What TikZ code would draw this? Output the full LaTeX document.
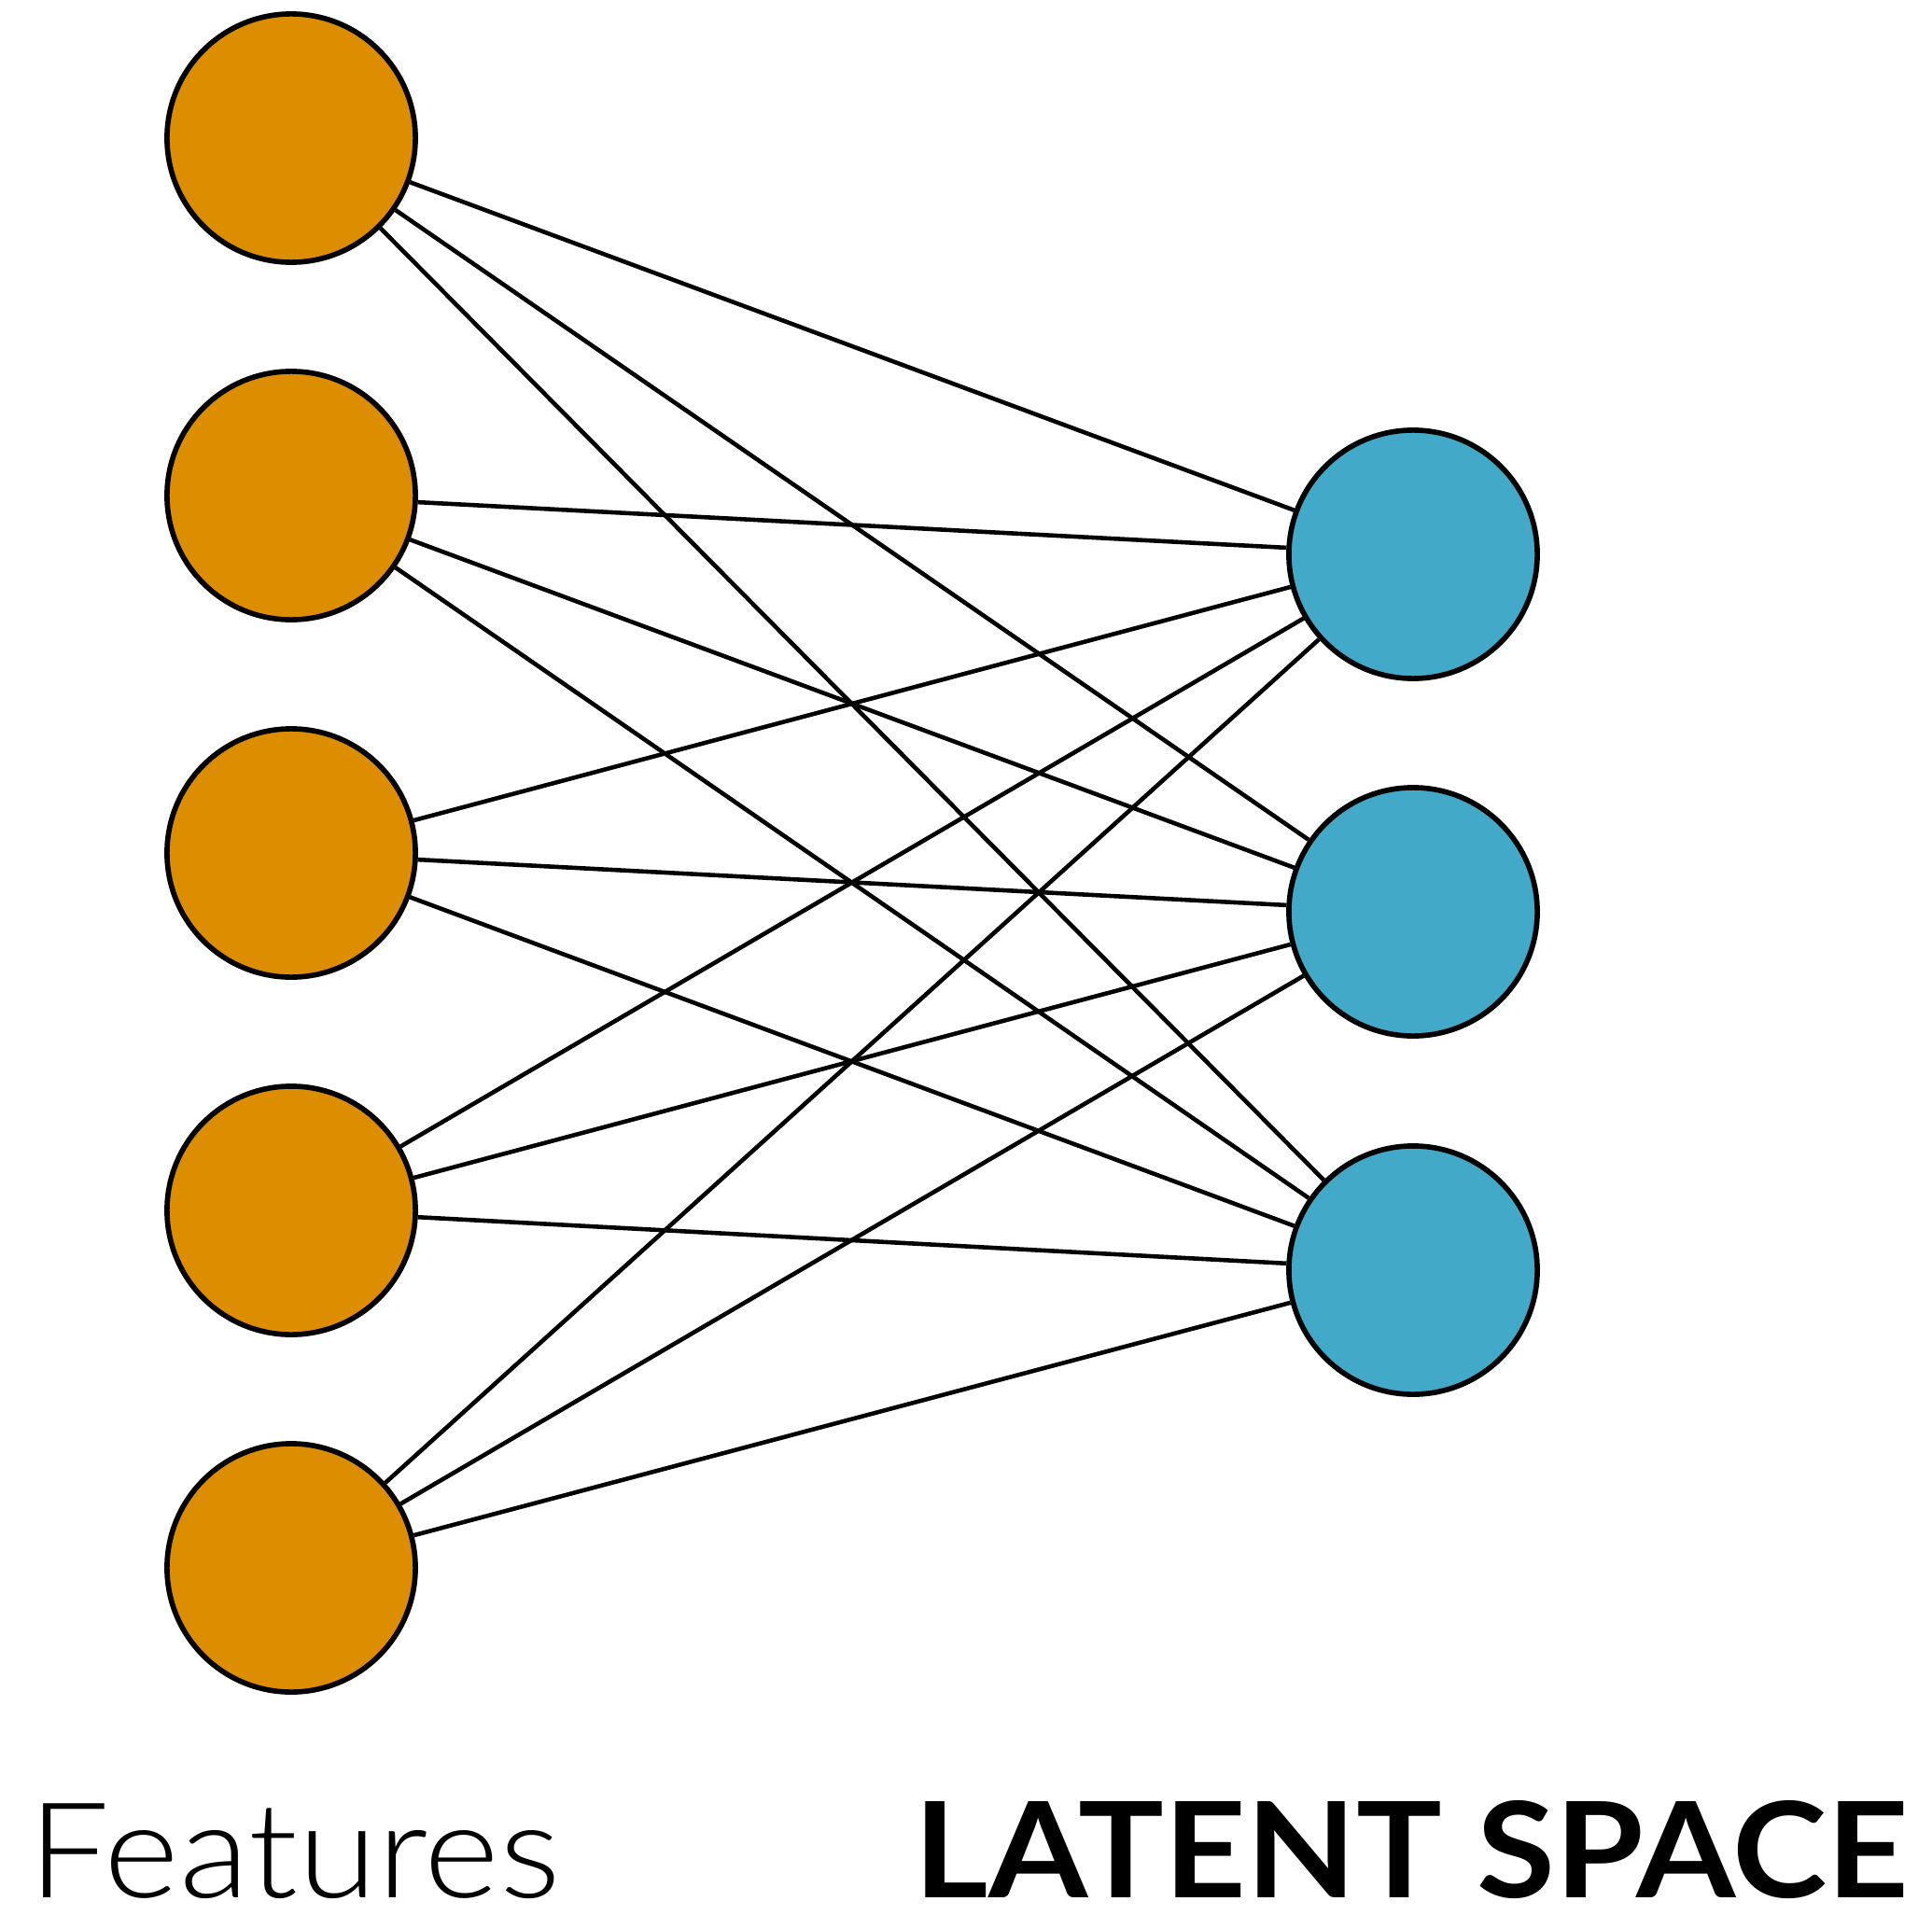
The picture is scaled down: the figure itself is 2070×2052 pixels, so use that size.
\documentclass[tikz,border=0pt]{standalone}
\usepackage{fontspec}
\setmainfont{Lato}
\newfontfamily\featfont{Lato Light}
\definecolor{featorange}{RGB}{221,142,0}
\definecolor{latentblue}{RGB}{66,169,200}
\begin{document}
\begin{tikzpicture}[x=0.01cm,y=-0.01cm,
  neuron/.style={circle,draw=black,line width=1.6pt,minimum size=2.66cm,inner sep=0pt},
  feat/.style={neuron,fill=featorange},
  lat/.style={neuron,fill=latentblue},
  link/.style={line width=1.3pt,black},
  label/.style={inner sep=0pt,text depth=0pt}]
\useasboundingbox (0,0) rectangle (2070,2052);
\foreach \i/\yy in {1/148,2/531,3/914,4/1297,5/1680}
  \node[feat] (L\i) at (312,\yy) {};
\foreach \j/\yy in {1/594,2/977,3/1361}
  \node[lat] (R\j) at (1514,\yy) {};
\foreach \i in {1,...,5}
  \foreach \j in {1,2,3}
    \draw[link] (L\i) -- (R\j);
\node[label,anchor=base west,xscale=1.085,font=\featfont\fontsize{40.5pt}{48pt}\selectfont] (feattext) at (30,2033) {Features};
\node[label,anchor=base east,xscale=1.075,font=\bfseries\fontsize{40.5pt}{48pt}\selectfont] (lattext) at (2046,2033) {LATENT SPACE};
\end{tikzpicture}
\end{document}
